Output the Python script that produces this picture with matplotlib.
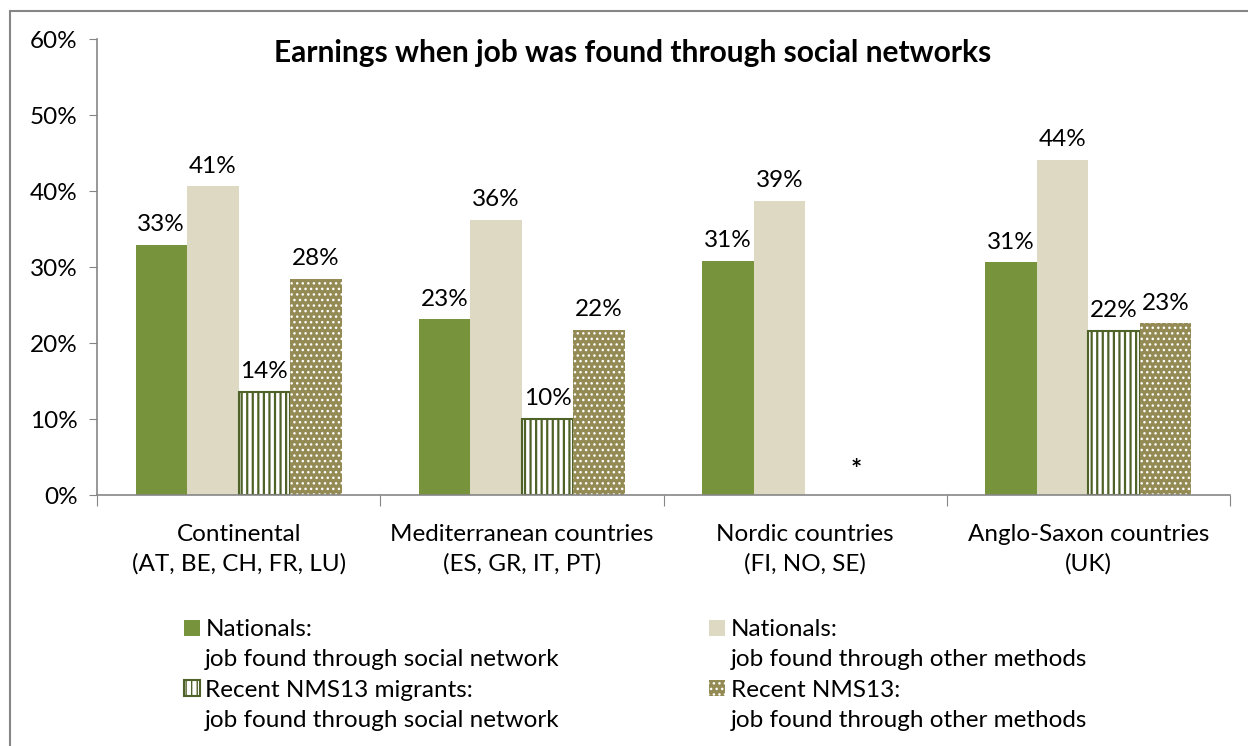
import numpy as np
import matplotlib.pyplot as plt
from matplotlib.patches import Rectangle, Patch

plt.rcParams['font.family'] = ['Lato', 'DejaVu Sans']

categories = ["Continental\n(AT, BE, CH, FR, LU)", "Mediterranean countries\n(ES, GR, IT, PT)",
              "Nordic countries\n(FI, NO, SE)", "Anglo-Saxon countries\n(UK)"]
nat_social = [32.9, 23.1, 30.8, 30.6]
nat_other = [40.6, 36.2, 38.7, 44.1]
nms_social = [13.6, 10.0, np.nan, 21.6]
nms_other = [28.4, 21.7, np.nan, 22.6]
series_names = ["Nationals:\njob found through social network",
                "Nationals:\njob found through other methods",
                "Recent NMS13 migrants:\njob found through social network",
                "Recent NMS13:\njob found through other methods"]

fs = 17.5
fig = plt.figure(figsize=(12.48, 7.46), dpi=100)
ax = fig.add_axes([97 / 1248, 1 - 495 / 746, (1230 - 97) / 1248, (495 - 39) / 746])

# outer chart border (cut off at the right and bottom)
fig.add_artist(Rectangle((10 / 1248, -0.1), 1.2, 1.1 - 11 / 746, transform=fig.transFigure,
                         fill=False, edgecolor='#868686', linewidth=1.5))

x = np.arange(len(categories))
w = 0.182
offs = [-1.5 * w, -0.5 * w, 0.5 * w, 1.5 * w]

def lab(vals):
    return ["" if np.isnan(v) else f"{v:.0f}%" for v in vals]

b1 = ax.bar(x + offs[0], nat_social, w, color='#77933C', linewidth=0)
b2 = ax.bar(x + offs[1], nat_other, w, color='#DDD9C3', linewidth=0)
plt.rcParams['hatch.linewidth'] = 1.6
b3 = ax.bar(x + offs[2], nms_social, w, color='white', edgecolor='#4F6228', linewidth=1.5, hatch='|||')
plt.rcParams['hatch.linewidth'] = 1.0
b4 = ax.bar(x + offs[3], nms_other, w, color='#948A54', edgecolor='white', linewidth=0, hatch='...')

for b, vals in zip([b1, b2, b3, b4], [nat_social, nat_other, nms_social, nms_other]):
    ax.bar_label(b, labels=lab(vals), padding=7, fontsize=fs)

# missing data marker for Nordic countries
ax.text(x[2] + w, 3.3, "*", ha='center', va='center', fontsize=19, fontweight='bold')

ax.set_ylim(0, 60)
ax.set_xlim(-0.5, 3.5)
ax.set_yticks(range(0, 61, 10))
ax.set_yticklabels([f"{t}%" for t in range(0, 61, 10)], fontsize=fs)
ax.set_xticks(np.arange(-0.5, 4, 1))
ax.set_xticklabels([])
ax.set_xticks(x, minor=True)
ax.set_xticklabels(categories, minor=True, fontsize=fs, linespacing=1.45)
ax.tick_params(axis='x', which='major', length=8, color='#868686', direction='out')
ax.tick_params(axis='x', which='minor', length=0, pad=21)
ax.tick_params(axis='y', length=6, color='#868686', pad=8)
for s in ['top', 'right']:
    ax.spines[s].set_visible(False)
for s in ['left', 'bottom']:
    ax.spines[s].set_color('#868686')
    ax.spines[s].set_linewidth(1.2)

fig.text(633 / 1248, 1 - 53 / 746, "Earnings when job was found through social networks",
         ha='center', va='center', fontsize=21.5, fontweight='bold')

# legend: 2 columns, second line of each entry without a swatch
blank = Patch(visible=False)
handles, labels = [], []
for b, name in [(b1, series_names[0]), (b3, series_names[2]), (b2, series_names[1]), (b4, series_names[3])]:
    first, second = name.split("\n")
    handles += [b, blank]
    labels += [first, second]
leg = fig.legend(handles, labels, ncol=2, loc='upper left', bbox_to_anchor=(172 / 1248, 1 - 607 / 746),
                 frameon=False, fontsize=fs, handlelength=0.65, handleheight=0.65, handletextpad=0.22,
                 labelspacing=0.38, columnspacing=6.15, borderpad=0)

fig.savefig("out.png", dpi=100)
